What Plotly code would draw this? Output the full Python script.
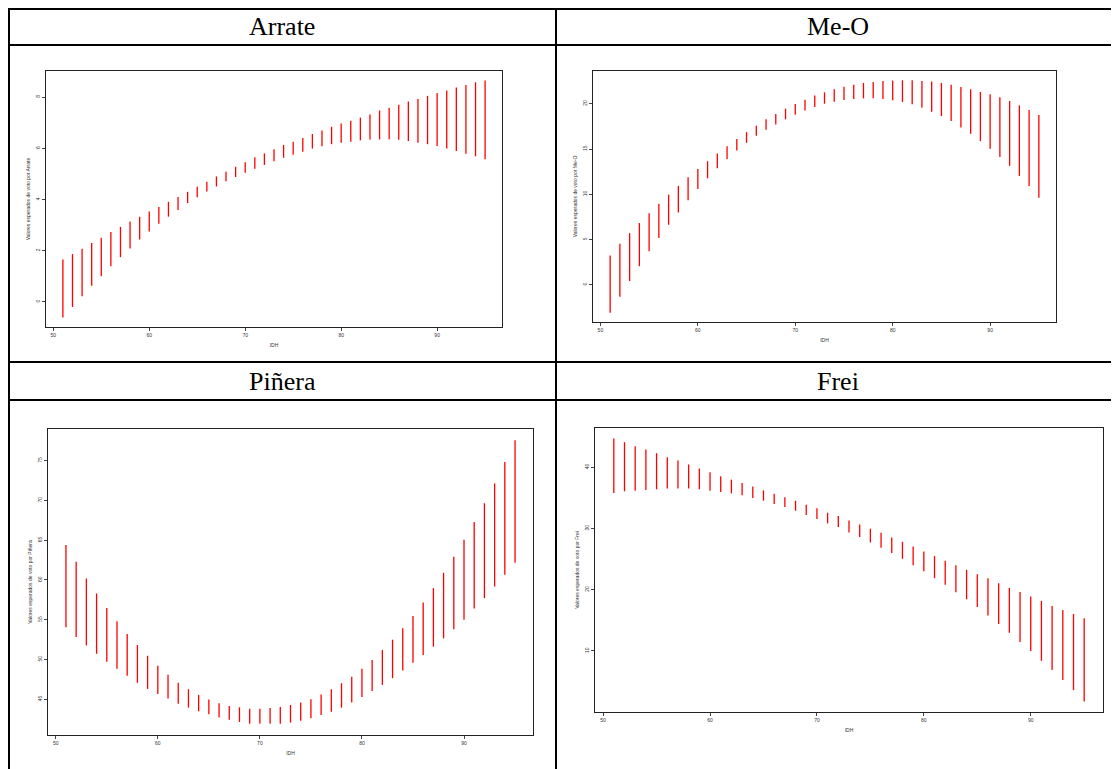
import plotly.graph_objects as go

W, H = 1119, 769
OFF = 8  # page body margin in the browser

idh = list(range(51, 96))

arrate_lo = [-0.61, -0.2, 0.22, 0.63, 1.0, 1.39, 1.75, 2.09, 2.44, 2.75, 3.05, 3.33, 3.59, 3.86, 4.09,
             4.31, 4.51, 4.71, 4.88, 5.05, 5.2, 5.35, 5.49, 5.63, 5.75, 5.87, 5.99, 6.08, 6.16, 6.22,
             6.26, 6.31, 6.34, 6.35, 6.35, 6.33, 6.29, 6.22, 6.16, 6.09, 5.99, 5.9, 5.79, 5.69, 5.57]
arrate_hi = [1.66, 1.87, 2.08, 2.3, 2.51, 2.73, 2.93, 3.14, 3.33, 3.53, 3.71, 3.91, 4.1, 4.3, 4.5,
             4.69, 4.9, 5.08, 5.28, 5.46, 5.65, 5.8, 5.96, 6.13, 6.26, 6.4, 6.56, 6.7, 6.84, 6.97,
             7.08, 7.2, 7.32, 7.48, 7.58, 7.7, 7.83, 7.93, 8.05, 8.16, 8.26, 8.38, 8.47, 8.58, 8.65]

meo_lo = [-3.06, -1.29, 0.44, 2.07, 3.73, 5.17, 6.64, 8.0, 9.34, 10.59, 11.77, 12.88, 13.91, 14.83, 15.68,
          16.46, 17.12, 17.71, 18.27, 18.78, 19.26, 19.63, 20.0, 20.22, 20.41, 20.52, 20.59, 20.59, 20.52, 20.37,
          20.18, 19.93, 19.56, 19.11, 18.63, 18.08, 17.38, 16.68, 15.87, 15.02, 14.13, 13.14, 12.03, 10.92, 9.63]
meo_hi = [3.25, 4.54, 5.72, 6.83, 7.9, 8.97, 9.96, 10.92, 11.88, 12.8, 13.65, 14.5, 15.31, 16.09, 16.86,
          17.56, 18.27, 18.86, 19.45, 19.96, 20.44, 20.89, 21.25, 21.59, 21.88, 22.1, 22.29, 22.4, 22.51, 22.55,
          22.58, 22.58, 22.51, 22.44, 22.29, 22.1, 21.85, 21.59, 21.29, 21.03, 20.7, 20.3, 19.82, 19.3, 18.75]

pinera_lo = [54.04, 52.82, 51.77, 50.72, 49.71, 48.83, 47.94, 47.06, 46.3, 45.67, 45.08, 44.45, 43.95, 43.49, 43.11,
             42.69, 42.43, 42.14, 41.93, 41.93, 41.93, 41.93, 42.06, 42.31, 42.6, 43.02, 43.44, 43.95, 44.58, 45.29,
             46.05, 46.81, 47.65, 48.62, 49.58, 50.55, 51.61, 52.66, 53.79, 55.01, 56.4, 57.71, 59.18, 60.65, 62.16]
pinera_hi = [64.39, 62.29, 60.19, 58.3, 56.49, 54.81, 53.21, 51.82, 50.47, 49.21, 48.07, 47.06, 46.26, 45.55, 44.96,
             44.5, 44.16, 43.99, 43.82, 43.82, 43.91, 44.03, 44.28, 44.58, 45.0, 45.59, 46.26, 47.02, 47.82, 48.83,
             49.93, 51.19, 52.49, 53.92, 55.48, 57.16, 58.97, 60.9, 62.92, 65.07, 67.3, 69.65, 72.14, 74.83, 77.56]

frei_lo = [35.79, 36.06, 36.17, 36.28, 36.39, 36.5, 36.5, 36.5, 36.39, 36.17, 35.95, 35.73, 35.41, 34.97, 34.53,
           33.99, 33.5, 32.9, 32.19, 31.53, 30.82, 30.22, 29.35, 28.59, 27.71, 26.84, 25.97, 25.04, 24.0, 23.02,
           21.88, 20.79, 19.59, 18.44, 17.18, 15.77, 14.4, 12.98, 11.46, 9.98, 8.4, 6.87, 5.24, 3.6, 1.75]
frei_hi = [44.68, 44.08, 43.43, 42.88, 42.28, 41.63, 41.08, 40.43, 39.77, 39.17, 38.52, 37.97, 37.42, 36.83, 36.22,
           35.68, 35.08, 34.53, 33.88, 33.28, 32.57, 32.02, 31.31, 30.66, 29.95, 29.3, 28.53, 27.82, 27.06, 26.24,
           25.48, 24.71, 24.0, 23.24, 22.52, 21.87, 21.06, 20.29, 19.64, 18.88, 18.17, 17.35, 16.69, 16.04, 15.33]

names = ["Arrate", "Me-O", "Piñera", "Frei"]
ylabels = ["Valores esperados de voto por Arrate", "Valores esperados de voto por Me-O",
           "Valores esperados de voto por Piñera", "Valores esperados de voto por Frei"]
yticks = [[0, 2, 4, 6, 8], [0, 5, 10, 15, 20], [45, 50, 55, 60, 65, 70, 75], [0, 10, 20, 30, 40]]
xticks = [50, 60, 70, 80, 90]
series = [(arrate_lo, arrate_hi), (meo_lo, meo_hi), (pinera_lo, pinera_hi), (frei_lo, frei_hi)]

# plot boxes in screen pixels: x0, x1, y0(top), y1(bottom)
boxes = [(46, 502, 71, 327), (593, 1056, 71, 322), (48, 533, 429, 735), (595, 1103, 428, 712)]
header_y = [26, 26, 381, 381]
header_x = [282, 838, 282, 838]


def fx(px):
    return (px - OFF) / W


def fy(py):
    return 1 - (py - OFF) / H


small = dict(size=5, family="Liberation Sans", color="#333333")

fig = go.Figure()
for i in range(4):
    lo, hi = series[i]
    xs, ys = [], []
    for x, a, b in zip(idh, lo, hi):
        xs += [x, x, None]
        ys += [a, b, None]
    n = "" if i == 0 else str(i + 1)
    fig.add_trace(go.Scatter(x=xs, y=ys, mode="lines", line=dict(color="red", width=1.3),
                             xaxis="x" + n, yaxis="y" + n, showlegend=False, hoverinfo="skip"))
    x0, x1, t, b = boxes[i]
    ymin, ymax = min(lo), max(hi)
    ext = (ymax - ymin) * 0.04
    ax = dict(domain=[fx(x0), fx(x1)], range=[49.24, 96.76], tickvals=xticks, ticks="outside", ticklen=3,
              tickfont=small, showgrid=False, zeroline=False,
              showline=True, linecolor="#222", linewidth=1.2, mirror=True,
              title=dict(text="IDH", font=small, standoff=6), anchor="y" + n)
    ay = dict(domain=[fy(b), fy(t)], range=[ymin - ext, ymax + ext], tickvals=yticks[i], ticks="outside",
              ticklen=3, tickangle=-90, tickfont=small,
              showgrid=False, zeroline=False, showline=True, linecolor="#222", linewidth=1.2, mirror=True,
              title=dict(text=ylabels[i], font=small, standoff=4), anchor="x" + n)
    fig.update_layout(**{"xaxis" + n: ax, "yaxis" + n: ay})
    fig.add_annotation(x=fx(header_x[i]), y=fy(header_y[i]), xref="paper", yref="paper", text=names[i],
                       xanchor="center", yanchor="middle", showarrow=False,
                       font=dict(size=26, family="Liberation Serif", color="black"))


# table grid lines
def hline(py, px0, px1):
    fig.add_shape(type="line", xref="paper", yref="paper", x0=fx(px0), x1=fx(px1), y0=fy(py), y1=fy(py),
                  line=dict(color="black", width=2))


def vline(px, py0, py1):
    fig.add_shape(type="line", xref="paper", yref="paper", x0=fx(px), x1=fx(px), y0=fy(py0), y1=fy(py1),
                  line=dict(color="black", width=2))


for py in [9, 45, 362, 400]:
    hline(py, 8, 1119)
for px in [9, 556, 1118]:
    vline(px, 8, 769)

fig.update_layout(width=W, height=H, margin=dict(l=0, r=0, t=0, b=0), paper_bgcolor="white",
                  plot_bgcolor="white")
fig.write_html("out.html")
